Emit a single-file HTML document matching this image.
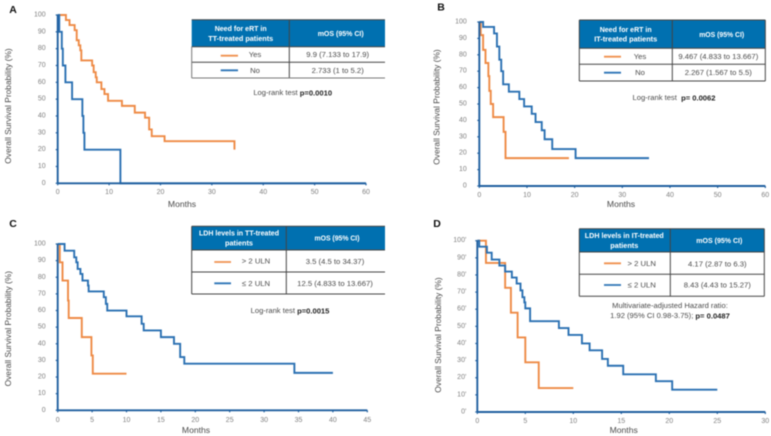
<!DOCTYPE html>
<html lang="en">
<head>
<meta charset="utf-8">
<title>Overall survival Kaplan-Meier curves</title>
<style>
html,body{margin:0;padding:0;background:#fff;width:771px;height:436px;overflow:hidden}
svg{display:block;filter:blur(0.45px)}
text{font-family:"Liberation Sans",sans-serif}
.cell{font-size:7.7px;fill:#4a4a4a;text-anchor:middle;dominant-baseline:central}
.head{font-size:7.6px;fill:#fff;font-weight:bold;text-anchor:middle;dominant-baseline:central}
.note{font-size:7.6px;fill:#4a4a4a;text-anchor:middle;dominant-baseline:central}
.note tspan{font-weight:bold;fill:#222}
.letter{font-size:10.5px;font-weight:bold;fill:#111;text-anchor:middle;dominant-baseline:central}
.rule{stroke:#444;stroke-width:1}
.rulelight{stroke:#777;stroke-width:1}
</style>
</head>
<body>
<svg id="figure" xmlns="http://www.w3.org/2000/svg" width="771" height="436" viewBox="0 0 771 436">
<rect x="0" y="0" width="771" height="436" fill="#fff"/>
<text class="letter" x="13" y="10">A</text>
<text class="letter" x="441" y="7.5">B</text>
<text class="letter" x="13" y="224">C</text>
<text class="letter" x="437" y="224">D</text>
<g id="plots"></g>

<g>
<rect x="191.7" y="19.7" width="193.3" height="27" fill="#0070b0"/>
<line class="rule" x1="289.3" y1="19.7" x2="289.3" y2="78"/>
<line class="rule" x1="191.7" y1="19.7" x2="385" y2="19.7"/>
<line class="rule" x1="191.7" y1="46.7" x2="385" y2="46.7"/>
<line class="rule" x1="191.7" y1="62.3" x2="385" y2="62.3"/>
<line class="rulelight" x1="191.7" y1="78" x2="385" y2="78"/>
<line class="rulelight" x1="191.7" y1="46.7" x2="191.7" y2="78"/>
<text class="head" x="240.7" y="28.3" textLength="52" lengthAdjust="spacingAndGlyphs">Need for eRT in</text>
<text class="head" x="240.7" y="38.3" textLength="65" lengthAdjust="spacingAndGlyphs">TT-treated patients</text>
<text class="head" x="340.7" y="33.3" textLength="46" lengthAdjust="spacingAndGlyphs">mOS (95% CI)</text>
<line x1="220.7" y1="55.7" x2="238" y2="55.7" stroke="#f0914f" stroke-width="1.8"/>
<line x1="220.7" y1="70.3" x2="238" y2="70.3" stroke="#2e75b6" stroke-width="1.8"/>
<text class="cell" x="255" y="54.7">Yes</text>
<text class="cell" x="255" y="70.3">No</text>
<text class="cell" x="337.7" y="54.7">9.9 (7.133 to 17.9)</text>
<text class="cell" x="337.7" y="70.3">2.733 (1 to 5.2)</text>
</g>
<text class="note" x="292.7" y="92.3">Log-rank test <tspan>p=0.0010</tspan></text>

<g>
<rect x="579.3" y="20" width="186" height="28.3" fill="#0070b0"/>
<line class="rule" x1="672.3" y1="20" x2="672.3" y2="81"/>
<line class="rule" x1="579.3" y1="20" x2="765.3" y2="20"/>
<line class="rule" x1="579.3" y1="48.3" x2="765.3" y2="48.3"/>
<line class="rule" x1="579.3" y1="64.3" x2="765.3" y2="64.3"/>
<line class="rule" x1="579.3" y1="81" x2="765.3" y2="81"/>
<line class="rule" x1="579.3" y1="20" x2="579.3" y2="81"/>
<line class="rule" x1="765.3" y1="20" x2="765.3" y2="81"/>
<text class="head" x="625.7" y="29.3" textLength="52" lengthAdjust="spacingAndGlyphs">Need for eRT in</text>
<text class="head" x="625.7" y="39" textLength="63" lengthAdjust="spacingAndGlyphs">IT-treated patients</text>
<text class="head" x="721.7" y="34.3" textLength="45" lengthAdjust="spacingAndGlyphs">mOS (95% CI)</text>
<line x1="604" y1="56.7" x2="621" y2="56.7" stroke="#f0914f" stroke-width="1.8"/>
<line x1="604" y1="72.7" x2="621" y2="72.7" stroke="#2e75b6" stroke-width="1.8"/>
<text class="cell" x="640" y="56.5">Yes</text>
<text class="cell" x="640" y="72.7">No</text>
<text class="cell" x="718.3" y="56.5">9.467 (4.833 to 13.667)</text>
<text class="cell" x="718.3" y="72.7">2.267 (1.567 to 5.5)</text>
</g>
<text class="note" x="674" y="97.7" xml:space="preserve">Log-rank test  <tspan>p= 0.0062</tspan></text>

<g>
<rect x="191.7" y="226.3" width="193.3" height="23.7" fill="#0070b0"/>
<line class="rule" x1="286.3" y1="226.3" x2="286.3" y2="294"/>
<line class="rule" x1="191.7" y1="226.3" x2="385" y2="226.3"/>
<line class="rule" x1="191.7" y1="250" x2="385" y2="250"/>
<line class="rule" x1="191.7" y1="272" x2="385" y2="272"/>
<line class="rule" x1="191.7" y1="294" x2="385" y2="294"/>
<line class="rule" x1="191.7" y1="226.3" x2="191.7" y2="294"/>
<text class="head" x="239" y="233" textLength="80" lengthAdjust="spacingAndGlyphs">LDH levels in TT-treated</text>
<text class="head" x="239" y="243" textLength="28" lengthAdjust="spacingAndGlyphs">patients</text>
<text class="head" x="337" y="238" textLength="45" lengthAdjust="spacingAndGlyphs">mOS (95% CI)</text>
<line x1="214.3" y1="262" x2="231" y2="262" stroke="#f0914f" stroke-width="1.8"/>
<line x1="214.3" y1="283.3" x2="231" y2="283.3" stroke="#2e75b6" stroke-width="1.8"/>
<text class="cell" x="256" y="261">&gt; 2 ULN</text>
<text class="cell" x="256" y="283.3">≤ 2 ULN</text>
<text class="cell" x="335" y="261.7">3.5 (4.5 to 34.37)</text>
<text class="cell" x="335" y="283.3">12.5 (4.833 to 13.667)</text>
</g>
<text class="note" x="290" y="310.7">Log-rank test <tspan>p=0.0015</tspan></text>

<g>
<rect x="579.3" y="228.7" width="185" height="23.3" fill="#0070b0"/>
<line class="rule" x1="670.3" y1="228.7" x2="670.3" y2="296.3"/>
<line class="rule" x1="579.3" y1="228.7" x2="764.3" y2="228.7"/>
<line class="rule" x1="579.3" y1="252" x2="764.3" y2="252"/>
<line class="rule" x1="579.3" y1="274.3" x2="764.3" y2="274.3"/>
<line class="rule" x1="579.3" y1="296.3" x2="764.3" y2="296.3"/>
<line class="rule" x1="579.3" y1="228.7" x2="579.3" y2="296.3"/>
<line class="rule" x1="764.3" y1="228.7" x2="764.3" y2="296.3"/>
<text class="head" x="624.3" y="235.3" textLength="79" lengthAdjust="spacingAndGlyphs">LDH levels in IT-treated</text>
<text class="head" x="624.3" y="245.3" textLength="28" lengthAdjust="spacingAndGlyphs">patients</text>
<text class="head" x="719.3" y="240.3" textLength="46" lengthAdjust="spacingAndGlyphs">mOS (95% CI)</text>
<line x1="604" y1="263.3" x2="621" y2="263.3" stroke="#f0914f" stroke-width="1.8"/>
<line x1="604" y1="285" x2="621" y2="285" stroke="#2e75b6" stroke-width="1.8"/>
<text class="cell" x="641.7" y="263.3">&gt; 2 ULN</text>
<text class="cell" x="641.7" y="285">≤ 2 ULN</text>
<text class="cell" x="717.3" y="263.8">4.17 (2.87 to 6.3)</text>
<text class="cell" x="717.3" y="285">8.43 (4.43 to 15.27)</text>
</g>
<text class="note" x="670" y="305.3">Multivariate-adjusted Hazard ratio:</text>
<text class="note" x="670" y="315.3">1.92 (95% CI 0.98-3.75); <tspan>p= 0.0487</tspan></text>
</svg>

<script>
var yTicks = [0, 10, 20, 30, 40, 50, 60, 70, 80, 90, 100];
var xTicks60 = [0, 10, 20, 30, 40, 50, 60];
var xTicks45 = [0, 5, 10, 15, 20, 25, 30, 35, 40, 45];
var xTicks30 = [0, 5, 10, 15, 20, 25, 30];

var aYesTimes = [0, 1.6, 2.3, 3.3, 3.7, 4.1, 4.4, 4.6, 6.7, 7.0, 7.4, 7.6, 8.5, 9.1, 9.8, 12.5, 15, 17, 17.8, 18.3, 20.8, 34.4, 34.4];
var aYesSurvival = [100, 97, 94, 91, 85, 82, 79, 73, 70, 66, 63, 60, 56, 53, 49, 46, 42, 39, 32, 28, 25, 20, 20];
var aNoTimes = [0, 0.3, 0.8, 1.0, 1.5, 2.8, 4.8, 5.0, 5.2, 12.2, 60];
var aNoSurvival = [100, 90, 80, 70, 60, 50, 40, 30, 20, 0, 0];

var bYesTimes = [0, 0.3, 0.8, 1.3, 1.9, 2.1, 2.4, 2.9, 5.1, 5.5, 18.8];
var bYesSurvival = [100, 92, 83, 75, 67, 58, 50, 42, 33, 17, 17];
var bNoTimes = [0, 0.8, 3.1, 3.7, 4.2, 4.6, 5.0, 6.2, 8.4, 9.4, 11, 11.8, 13.1, 13.7, 15.3, 20.2, 35.6];
var bNoSurvival = [100, 97, 93, 85, 77, 70, 62, 57.5, 53, 48.5, 44, 39, 34, 28.5, 22.5, 17, 17];

var cHighTimes = [0, 0.3, 0.7, 1.5, 1.6, 3.5, 4.9, 5.1, 10];
var cHighSurvival = [100, 89, 78, 66, 55.5, 44, 33, 22, 22];
var cLowTimes = [0, 1, 2.4, 2.7, 2.9, 3.3, 3.6, 4.4, 4.5, 6.7, 7.0, 7.2, 10, 12.2, 12.5, 15, 16.9, 17.8, 18.4, 34.4, 40];
var cLowSurvival = [100, 96, 92, 89, 85, 82, 78, 75, 71.5, 68, 64, 60, 56.5, 52, 48, 44, 40, 32, 28, 22.5, 22.5];

var dHighTimes = [0, 0.9, 2.9, 3.5, 4.2, 5.0, 6.4, 10];
var dHighSurvival = [100, 87, 72.5, 58, 43.5, 29, 14, 14];
var dLowTimes = [0, 0.2, 1.0, 1.5, 2.3, 2.9, 3.6, 4.1, 4.5, 4.7, 4.9, 5.0, 5.5, 8.5, 9.5, 10.9, 11.7, 13, 13.6, 15.2, 18.6, 20.3, 25];
var dLowSurvival = [100, 96.5, 93, 89, 85.5, 82, 78.5, 75, 71, 67, 64, 60.5, 53, 49, 45, 40, 36, 31, 27, 22, 18, 13, 13];

var SVG_NS = 'http://www.w3.org/2000/svg';
var ORANGE = '#ee8a45';
var BLUE = '#2a70b2';
var AXIS = '#1f5f9f';
var plots = document.getElementById('plots');

function svgEl(tag, parent) {
  var el = document.createElementNS(SVG_NS, tag);
  parent.appendChild(el);
  return el;
}

function drawPanel(p) {
  var group = svgEl('g', plots);
  
  

  function xScale(v) { return p.x0 + (v / p.xMax) * (p.x1 - p.x0); }
  function yScale(v) { return p.y0 + (v / 100) * (p.y100 - p.y0); }

  function drawSteps(times, survival, color, name) {
    var d = 'M' + xScale(times[0]) + ' ' + yScale(survival[0]);
    for (var i = 1; i < times.length; i++) {
      d += 'L' + xScale(times[i]) + ' ' + yScale(survival[i - 1]);
      d += 'L' + xScale(times[i]) + ' ' + yScale(survival[i]);
    }
    var path = svgEl('path', group);
    
    
    path.setAttribute('d', d);
    path.setAttribute('fill', 'none');
    path.setAttribute('stroke', color);
    path.setAttribute('stroke-width', '1.9');
  }

  drawSteps(p.firstTimes, p.firstSurvival, ORANGE, 'curve-' + p.id + '-' + p.firstName);
  drawSteps(p.secondTimes, p.secondSurvival, BLUE, 'curve-' + p.id + '-' + p.secondName);

  var yAxis = svgEl('line', group);
  
  
  yAxis.setAttribute('x1', p.x0);
  yAxis.setAttribute('x2', p.x0);
  yAxis.setAttribute('y1', yScale(100));
  yAxis.setAttribute('y2', yScale(0));
  yAxis.setAttribute('stroke', AXIS);
  yAxis.setAttribute('stroke-width', '1.9');

  var xAxis = svgEl('line', group);
  
  
  xAxis.setAttribute('x1', p.x0);
  xAxis.setAttribute('x2', p.x1);
  xAxis.setAttribute('y1', p.y0);
  xAxis.setAttribute('y2', p.y0);
  xAxis.setAttribute('stroke', AXIS);
  xAxis.setAttribute('stroke-width', '1.9');

  yTicks.forEach(function (v) {
    var tick = svgEl('line', group);
    
    
    tick.setAttribute('x1', p.x0 - 2);
    tick.setAttribute('x2', p.x0);
    tick.setAttribute('y1', yScale(v));
    tick.setAttribute('y2', yScale(v));
    tick.setAttribute('stroke', AXIS);
    tick.setAttribute('stroke-width', '1.2');

    var label = svgEl('text', group);
    
    
    label.setAttribute('x', p.x0 - p.yLabelGap);
    label.setAttribute('y', yScale(v));
    label.setAttribute('text-anchor', 'end');
    label.setAttribute('dominant-baseline', 'central');
    label.setAttribute('font-size', '7');
    label.setAttribute('fill', '#808080');
    label.textContent = v + p.ySuffix;
  });

  p.xTicks.forEach(function (v) {
    var tick = svgEl('line', group);
    
    
    tick.setAttribute('x1', xScale(v));
    tick.setAttribute('x2', xScale(v));
    tick.setAttribute('y1', p.y0);
    tick.setAttribute('y2', p.y0 + 2);
    tick.setAttribute('stroke', AXIS);
    tick.setAttribute('stroke-width', '1.2');

    var label = svgEl('text', group);
    
    
    label.setAttribute('x', xScale(v));
    label.setAttribute('y', p.xLabelY);
    label.setAttribute('text-anchor', 'middle');
    label.setAttribute('dominant-baseline', 'central');
    label.setAttribute('font-size', '7');
    label.setAttribute('fill', '#808080');
    label.textContent = v;
  });

  var xTitle = svgEl('text', group);
  
  
  xTitle.setAttribute('x', p.xTitleX);
  xTitle.setAttribute('y', p.xTitleY);
  xTitle.setAttribute('text-anchor', 'middle');
  xTitle.setAttribute('dominant-baseline', 'central');
  xTitle.setAttribute('font-size', '8.6');
  xTitle.setAttribute('fill', '#4a4a4a');
  xTitle.textContent = 'Months';

  var yTitle = svgEl('text', group);
  
  
  yTitle.setAttribute('x', 0);
  yTitle.setAttribute('y', 0);
  yTitle.setAttribute('transform', 'translate(' + p.yTitleX + ' ' + p.yTitleY + ') rotate(-90)');
  yTitle.setAttribute('text-anchor', 'middle');
  yTitle.setAttribute('dominant-baseline', 'central');
  yTitle.setAttribute('font-size', '8.4');
  yTitle.setAttribute('fill', '#4a4a4a');
  yTitle.textContent = 'Overall Survival Probability (%)';
}

drawPanel({ id: 'a', x0: 57.7, x1: 366, y0: 183.3, y100: 15, xMax: 60, xTicks: xTicks60, ySuffix: '', yLabelGap: 12,
  xLabelY: 192.7, xTitleX: 182, xTitleY: 204, yTitleX: 8, yTitleY: 106,
  firstTimes: aYesTimes, firstSurvival: aYesSurvival, firstName: 'yes',
  secondTimes: aNoTimes, secondSurvival: aNoSurvival, secondName: 'no' });

drawPanel({ id: 'b', x0: 479.3, x1: 765.3, y0: 186, y100: 22, xMax: 60, xTicks: xTicks60, ySuffix: '', yLabelGap: 12.5,
  xLabelY: 195.7, xTitleX: 621, xTitleY: 204, yTitleX: 436.7, yTitleY: 107,
  firstTimes: bYesTimes, firstSurvival: bYesSurvival, firstName: 'yes',
  secondTimes: bNoTimes, secondSurvival: bNoSurvival, secondName: 'no' });

drawPanel({ id: 'c', x0: 57.7, x1: 367.3, y0: 410.3, y100: 244, xMax: 45, xTicks: xTicks45, ySuffix: '', yLabelGap: 12,
  xLabelY: 420.7, xTitleX: 196, xTitleY: 430, yTitleX: 8, yTitleY: 328.7,
  firstTimes: cHighTimes, firstSurvival: cHighSurvival, firstName: 'above-2-uln',
  secondTimes: cLowTimes, secondSurvival: cLowSurvival, secondName: 'at-most-2-uln' });

drawPanel({ id: 'd', x0: 477.3, x1: 765.3, y0: 412, y100: 240.7, xMax: 30, xTicks: xTicks30, ySuffix: "'", yLabelGap: 11,
  xLabelY: 421.3, xTitleX: 623.7, xTitleY: 430, yTitleX: 438, yTitleY: 335,
  firstTimes: dHighTimes, firstSurvival: dHighSurvival, firstName: 'above-2-uln',
  secondTimes: dLowTimes, secondSurvival: dLowSurvival, secondName: 'at-most-2-uln' });
</script>
</body>
</html>
